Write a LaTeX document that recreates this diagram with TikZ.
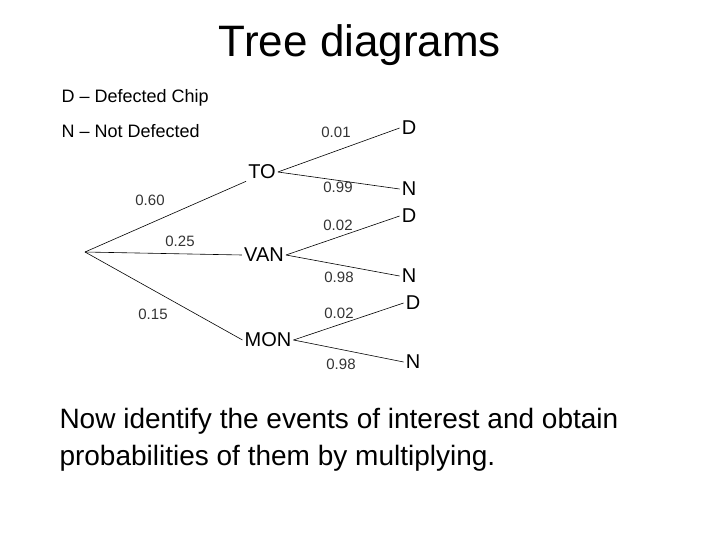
\documentclass[tikz,border=0pt]{standalone}
\usepackage{fontspec}
\setmainfont{Liberation Sans}
\begin{document}
\begin{tikzpicture}[x=1pt,y=-1pt,
    lbl/.style={font=\fontsize{15}{17}\selectfont, text=black!80},
    st/.style={font=\fontsize{20}{22}\selectfont, inner sep=2pt},
    br/.style={draw, line width=0.6pt}]
    \useasboundingbox (0,0) rectangle (720,540);
    % Title and legend
    \node (title) at (360,45) {\fontsize{44}{48}\selectfont Tree diagrams};
    \node[anchor=west, font=\fontsize{18}{20}\selectfont] (legD) at (58,98) {D -- Defected Chip};
    \node[anchor=west, font=\fontsize{18}{20}\selectfont] (legN) at (58,131) {N -- Not Defected};

    % Stages
    \coordinate (root) at (85,252);
    \node[st] (to) at (262,172) {TO};
    \node[st] (van) at (264,255) {VAN};
    \node[st] (mon) at (268,340) {MON};
    \node[st] (to-d) at (409,128) {D};
    \node[st] (to-n) at (409,189) {N};
    \node[st] (van-d) at (409,216) {D};
    \node[st] (van-n) at (409,276) {N};
    \node[st] (mon-d) at (413,303) {D};
    \node[st] (mon-n) at (413,362) {N};

    % Branches
    \draw[br] (root) -- (to.south west);
    \draw[br] (root) -- (van.west);
    \draw[br] (root) -- (mon.west);
    \draw[br] (to.east) -- (to-d.west);
    \draw[br] (to.east) -- (to-n.west);
    \draw[br] (van.east) -- (van-d.west);
    \draw[br] (van.east) -- (van-n.west);
    \draw[br] (mon.east) -- (mon-d.west);
    \draw[br] (mon.east) -- (mon-n.west);

    % Probabilities
    \node[lbl] (p-to) at (150,200) {0.60};
    \node[lbl] (p-van) at (180,241) {0.25};
    \node[lbl] (p-mon) at (153,314) {0.15};
    \node[lbl] (p-to-d) at (336,132) {0.01};
    \node[lbl] (p-to-n) at (338,187) {0.99};
    \node[lbl] (p-van-d) at (338,225) {0.02};
    \node[lbl] (p-van-n) at (339,277) {0.98};
    \node[lbl] (p-mon-d) at (339,313) {0.02};
    \node[lbl] (p-mon-n) at (341,364) {0.98};

    % Note
    \node[anchor=north west, align=left, font=\fontsize{28}{37}\selectfont] (note) at (56,405)
        {Now identify the events of interest and obtain\\probabilities of them by multiplying.};
\end{tikzpicture}
\end{document}
